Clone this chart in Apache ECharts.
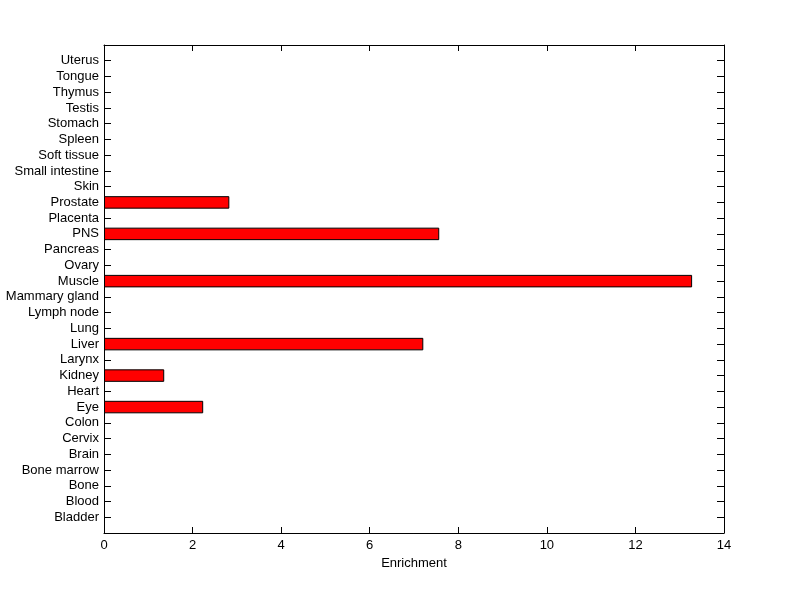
<!DOCTYPE html>
<html>
<head>
<meta charset="utf-8">
<script src="https://cdn.jsdelivr.net/npm/echarts@6/dist/echarts.min.js"></script>
<style>html,body{margin:0;padding:0;background:#fff}#c{width:800px;height:599px}</style>
</head>
<body>
<div id="c"></div>
<script>
const categories = ['Bladder','Blood','Bone','Bone marrow','Brain','Cervix','Colon','Eye','Heart','Kidney','Larynx','Liver','Lung','Lymph node','Mammary gland','Muscle','Ovary','Pancreas','PNS','Placenta','Prostate','Skin','Small intestine','Soft tissue','Spleen','Stomach','Testis','Thymus','Tongue','Uterus'];
const enrichment = [0,0,0,0,0,0,0,2.24,0,1.36,0,7.21,0,0,0,13.28,0,0,7.57,0,2.83,0,0,0,0,0,0,0,0,0];
const xTicks = {min: 0, max: 14, interval: 2};

// pad with empty slots at both ends so category positions sit like MATLAB's 0..31 limits
const axisCats = [''].concat(categories, ['']);
const barData = [null].concat(enrichment.map(v => v === 0 ? null : v), [null]);

const font = {fontFamily: 'Liberation Sans, Arial, sans-serif', fontSize: 13, color: '#000'};
const line = {lineStyle: {color: '#000', width: 1}};
const chart = echarts.init(document.getElementById('c'), null, {renderer: 'canvas'});
chart.setOption({
  animation: false,
  backgroundColor: '#fff',
  grid: {left: 104, right: 76, top: 45, bottom: 66, containLabel: false},
  xAxis: [{
    type: 'value', position: 'bottom', min: xTicks.min, max: xTicks.max, interval: xTicks.interval,
    axisLine: Object.assign({show: true, onZero: false}, line),
    axisTick: Object.assign({show: true, inside: true, length: 6}, line),
    axisLabel: Object.assign({margin: 6}, font),
    splitLine: {show: false},
    name: 'Enrichment', nameLocation: 'middle', nameGap: 22,
    nameTextStyle: font
  }, {
    type: 'value', position: 'top', min: xTicks.min, max: xTicks.max, interval: xTicks.interval,
    axisLine: Object.assign({show: true, onZero: false}, line),
    axisTick: Object.assign({show: true, inside: true, length: 6}, line),
    axisLabel: {show: false},
    splitLine: {show: false}
  }],
  yAxis: [{
    type: 'category', position: 'left', data: axisCats, boundaryGap: false,
    axisLine: Object.assign({show: true, onZero: false}, line),
    axisTick: Object.assign({show: true, inside: true, length: 7, interval: 0}, line),
    axisLabel: Object.assign({interval: 0, margin: 5}, font),
    splitLine: {show: false}
  }, {
    type: 'category', position: 'right', data: axisCats, boundaryGap: false,
    axisLine: Object.assign({show: true, onZero: false}, line),
    axisTick: Object.assign({show: true, inside: true, length: 7, interval: 0}, line),
    axisLabel: {show: false},
    splitLine: {show: false}
  }],
  series: [{
    type: 'bar', xAxisIndex: 0, yAxisIndex: 0, data: barData, barWidth: 12.5,
    itemStyle: {color: '#ff0000', borderColor: '#000', borderWidth: 1}
  }]
});
</script>
</body>
</html>
